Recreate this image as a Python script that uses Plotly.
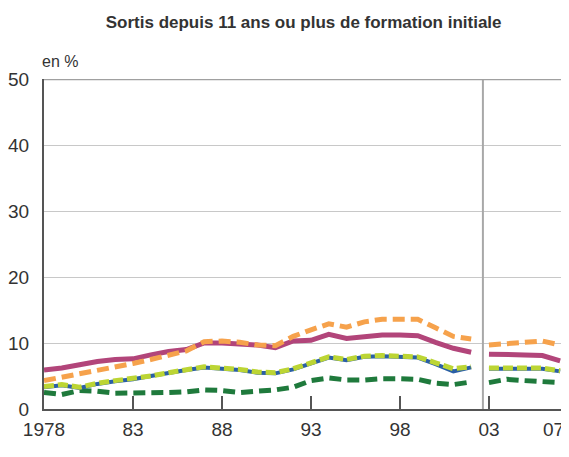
import plotly.graph_objects as go

years_a = list(range(1978, 2003))
years_b = list(range(2003, 2008))

purple_a = [5.9, 6.2, 6.7, 7.2, 7.5, 7.6, 8.2, 8.7, 9.0, 10.0, 10.0, 9.9, 9.7, 9.3, 10.3,
            10.4, 11.3, 10.7, 11.0, 11.2, 11.2, 11.1, 10.1, 9.2, 8.6]
purple_b = [8.3, 8.3, 8.2, 8.1, 7.3]

orange_a = [4.3, 4.8, 5.3, 5.8, 6.3, 6.9, 7.5, 8.2, 8.8, 10.2, 10.3, 10.1, 9.7, 9.6, 11.0,
            12.0, 12.9, 12.4, 13.2, 13.6, 13.6, 13.6, 12.3, 11.0, 10.6]
orange_b = [9.7, 9.9, 10.2, 10.3, 9.7]

lgreen_a = [3.4, 3.7, 3.3, 3.9, 4.3, 4.6, 5.0, 5.5, 5.9, 6.4, 6.2, 6.0, 5.6, 5.5, 6.1,
            7.0, 7.9, 7.5, 8.0, 8.1, 8.0, 7.9, 7.0, 6.1, 6.4]
lgreen_b = [6.2, 6.2, 6.2, 6.2, 5.8]

blue_a = [3.3, 3.6, 3.2, 3.8, 4.2, 4.5, 5.0, 5.5, 5.9, 6.3, 6.1, 5.9, 5.5, 5.4, 6.0,
          6.9, 7.8, 7.4, 7.9, 8.0, 7.9, 7.8, 6.8, 5.7, 6.3]
blue_b = [6.1, 6.1, 6.1, 6.1, 5.7]

dgreen_a = [2.5, 2.2, 2.8, 2.7, 2.4, 2.4, 2.4, 2.5, 2.6, 2.9, 2.8, 2.5, 2.7, 2.9, 3.3,
            4.3, 4.7, 4.4, 4.4, 4.6, 4.6, 4.5, 3.9, 3.7, 4.1]
dgreen_b = [4.0, 4.5, 4.3, 4.2, 4.0]

tick_vals = [1978, 1983, 1988, 1993, 1998, 2003, 2007]
tick_text = ["1978", "83", "88", "93", "98", "03", "07"]
y_ticks = [0, 10, 20, 30, 40, 50]

title = "Sortis depuis 11 ans ou plus de formation initiale"
unit = "en %"
break_year = 2002.66
x_max = 2007.16

FONT = "Liberation Sans, Arial, sans-serif"
TXT = "#333333"

fig = go.Figure()

def add(x, y, color, width, dash="solid"):
    fig.add_trace(go.Scatter(x=x, y=y, mode="lines", showlegend=False,
                             line=dict(color=color, width=width, dash=dash),
                             hoverinfo="skip", cliponaxis=False))

for xs, ys in ((years_a, dgreen_a), (years_b, dgreen_b)):
    add(xs, ys, "#1f7a3c", 5, "12px,6px")
for xs, ys in ((years_a, blue_a), (years_b, blue_b)):
    add(xs, ys, "#2a5fa5", 4)
for xs, ys in ((years_a, lgreen_a), (years_b, lgreen_b)):
    add(xs, ys, "#bcd534", 5, "10px,4px")
for xs, ys in ((years_a, purple_a), (years_b, purple_b)):
    add(xs, ys, "#b2457a", 5)
for xs, ys in ((years_a, orange_a), (years_b, orange_b)):
    add(xs, ys, "#f6a24c", 5, "12px,6px")

fig.add_shape(type="line", xref="x", yref="y", x0=break_year, x1=break_year, y0=0, y1=50,
              line=dict(color="#a8a8a8", width=2), layer="above")
fig.add_shape(type="line", xref="x", yref="y", x0=1978, x1=x_max, y0=50, y1=50,
              line=dict(color="#a0a0a0", width=2.5), layer="above")
fig.add_shape(type="line", xref="x", yref="y", x0=x_max, x1=x_max, y0=0, y1=50,
              line=dict(color="#a0a0a0", width=2), layer="above")

# all x tick labels but the last go on the axis; the last one sits just inside the right edge
axis_vals = tick_vals[:-1]
axis_text = tick_text[:-1]

fig.update_layout(
    width=561, height=449,
    margin=dict(l=36, r=6, t=71, b=48, autoexpand=False),
    paper_bgcolor="white", plot_bgcolor="white",
    font=dict(family=FONT, size=19, color=TXT),
    title=dict(text="<b>" + title + "</b>", x=0.527, xanchor="center", y=0.968, yanchor="middle",
               font=dict(family=FONT, size=17, color=TXT)),
    xaxis=dict(range=[1978, x_max], tickmode="array", tickvals=axis_vals, ticktext=axis_text,
               ticks="inside", ticklen=13, tickwidth=1.5, tickcolor="#555555",
               ticklabelstandoff=2,
               showgrid=False, showline=True, linecolor="#555555", linewidth=2,
               zeroline=False, fixedrange=True, automargin=False),
    yaxis=dict(range=[0, 50], tickmode="array", tickvals=y_ticks,
               showgrid=True, gridcolor="#c8c8c8", gridwidth=1,
               showline=True, linecolor="#555555", linewidth=2,
               ticks="", ticklabelstandoff=9, zeroline=False, fixedrange=True, automargin=False),
    annotations=[
        dict(text=unit, xref="paper", yref="paper", x=0.0, y=1.0, xanchor="left",
             yanchor="bottom", yshift=7, xshift=-4, showarrow=False,
             font=dict(family=FONT, size=16, color=TXT)),
        dict(text=tick_text[-1], xref="x", yref="paper", x=tick_vals[-1], y=0.0,
             xanchor="center", yanchor="top", xshift=-7, yshift=-8, showarrow=False,
             font=dict(family=FONT, size=19, color=TXT)),
    ],
)

fig.write_html("out.html")
